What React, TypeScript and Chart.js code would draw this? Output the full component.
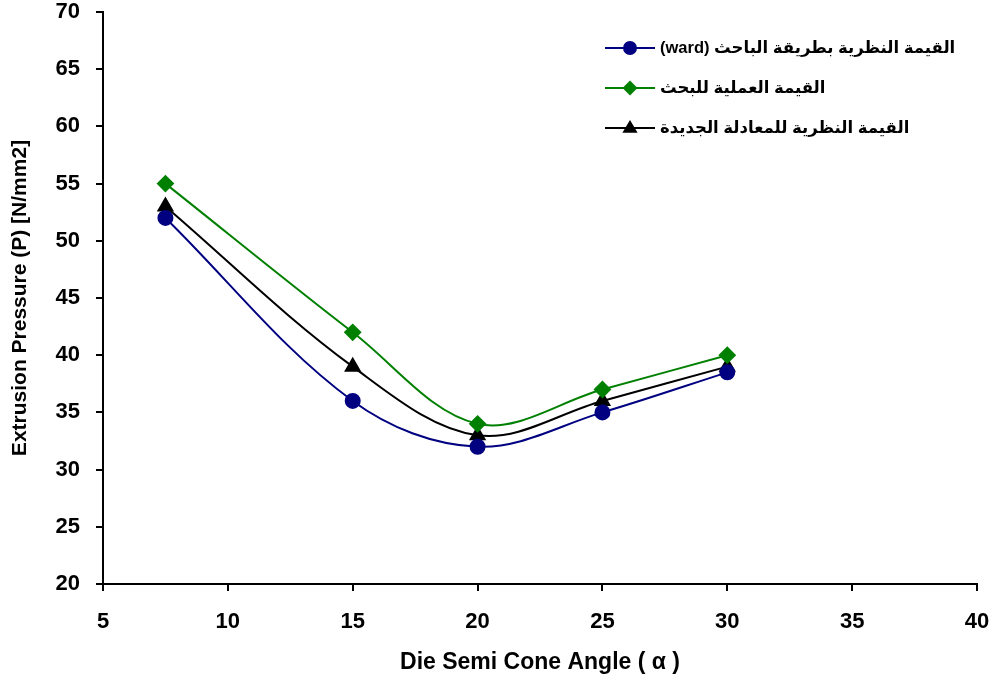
import React, { useEffect, useRef } from "react";
import { Chart, registerables } from "chart.js";

Chart.register(...registerables);

const angles = [7.5, 15, 20, 25, 30];
const wardValues = [52, 36, 32, 35, 38.5];
const experimentalValues = [55, 42, 34, 37, 40];
const newEquationValues = [53, 39, 33, 36, 39];

const seriesLabels = [
  "القيمة النظرية بطريقة الباحث (ward)",
  "القيمة العملية للبحث",
  "القيمة النظرية للمعادلة الجديدة",
];
const xTitle = "Die Semi Cone Angle ( α )";
const yTitle = "Extrusion Pressure (P) [N/mm2]";

const toPoints = (ys: number[]) => ys.map((y, i) => ({ x: angles[i], y }));

function drawMarker(ctx: CanvasRenderingContext2D, style: string, x: number, y: number, r: number) {
  ctx.beginPath();
  if (style === "circle") {
    ctx.arc(x, y, r, 0, Math.PI * 2);
  } else if (style === "rectRot") {
    ctx.moveTo(x - r, y);
    ctx.lineTo(x, y - r);
    ctx.lineTo(x + r, y);
    ctx.lineTo(x, y + r);
    ctx.closePath();
  } else {
    ctx.moveTo(x, y - r);
    ctx.lineTo(x + r * 0.95, y + r * 0.6);
    ctx.lineTo(x - r * 0.95, y + r * 0.6);
    ctx.closePath();
  }
  ctx.fill();
}

const legendPlugin = {
  id: "customLegend",
  afterDraw(chart: any) {
    const ctx: CanvasRenderingContext2D = chart.ctx;
    const x0 = 605;
    const y0 = 48;
    const gap = 40;
    ctx.save();
    chart.data.datasets.forEach((ds: any, i: number) => {
      const y = y0 + i * gap;
      ctx.strokeStyle = ds.borderColor;
      ctx.lineWidth = 2;
      ctx.beginPath();
      ctx.moveTo(x0, y);
      ctx.lineTo(x0 + 50, y);
      ctx.stroke();
      ctx.fillStyle = ds.pointBackgroundColor;
      drawMarker(ctx, ds.pointStyle, x0 + 25, y, ds.pointRadius);
      ctx.fillStyle = "#000";
      ctx.font = "bold 16.5px Arial, 'DejaVu Sans', sans-serif";
      (ctx as any).direction = "rtl";
      ctx.textAlign = "left";
      ctx.textBaseline = "middle";
      ctx.fillText(ds.label, x0 + 55, y);
    });
    ctx.restore();
  },
};

export default function App() {
  const ref = useRef<HTMLCanvasElement | null>(null);

  useEffect(() => {
    document.body.style.margin = "0";
    const canvas = ref.current;
    if (!canvas) return;
    const tickFont = { family: "Arial, 'Liberation Sans', sans-serif", size: 22, weight: "bold" as const };
    const chart = new Chart(canvas, {
      type: "line",
      data: {
        datasets: [
          {
            label: seriesLabels[0],
            data: toPoints(wardValues),
            borderColor: "#000080",
            backgroundColor: "#000080",
            pointBackgroundColor: "#000080",
            pointBorderColor: "#000080",
            pointStyle: "circle",
            pointRadius: 7,
            borderWidth: 2,
            tension: 0.35,
          },
          {
            label: seriesLabels[1],
            data: toPoints(experimentalValues),
            borderColor: "#008000",
            backgroundColor: "#008000",
            pointBackgroundColor: "#008000",
            pointBorderColor: "#008000",
            pointStyle: "rectRot",
            pointRadius: 7.5,
            borderWidth: 2,
            tension: 0.35,
          },
          {
            label: seriesLabels[2],
            data: toPoints(newEquationValues),
            borderColor: "#000000",
            backgroundColor: "#000000",
            pointBackgroundColor: "#000000",
            pointBorderColor: "#000000",
            pointStyle: "triangle",
            pointRadius: 8,
            borderWidth: 2,
            tension: 0.35,
          },
        ] as any,
      },
      options: {
        animation: false,
        responsive: false,
        devicePixelRatio: 1,
        layout: { padding: { top: 12, right: 22, left: 0, bottom: 0 } },
        plugins: {
          legend: { display: false },
          tooltip: { enabled: false },
        },
        scales: {
          x: {
            type: "linear",
            min: 5,
            max: 40,
            ticks: { stepSize: 5, color: "#000", font: tickFont, padding: 18 },
            grid: { drawOnChartArea: false, drawTicks: true, tickLength: 7, color: "#000", lineWidth: 2 },
            border: { display: true, color: "#000", width: 2 },
            title: {
              display: true,
              text: xTitle,
              color: "#000",
              font: { family: "Arial, 'Liberation Sans', sans-serif", size: 23, weight: "bold" },
              padding: { top: 0, bottom: 5 },
            },
            afterFit: (scale: any) => {
              scale.height = 97;
              scale.paddingLeft = 0;
              scale.paddingRight = 0;
            },
          },
          y: {
            type: "linear",
            min: 20,
            max: 70,
            ticks: { stepSize: 5, color: "#000", font: tickFont, padding: 16 },
            grid: { drawOnChartArea: false, drawTicks: true, tickLength: 7, color: "#000", lineWidth: 2 },
            border: { display: true, color: "#000", width: 2 },
            title: {
              display: true,
              text: yTitle,
              color: "#000",
              font: { family: "Arial, 'Liberation Sans', sans-serif", size: 21, weight: "bold" },
              padding: { top: 8, bottom: 0 },
            },
            afterFit: (scale: any) => {
              scale.width = 103;
              scale.paddingTop = 0;
              scale.paddingBottom = 0;
            },
          },
        },
      } as any,
      plugins: [legendPlugin],
    });
    return () => chart.destroy();
  }, []);

  return <canvas ref={ref} width={999} height={681} style={{ display: "block", width: 999, height: 681 }} />;
}
